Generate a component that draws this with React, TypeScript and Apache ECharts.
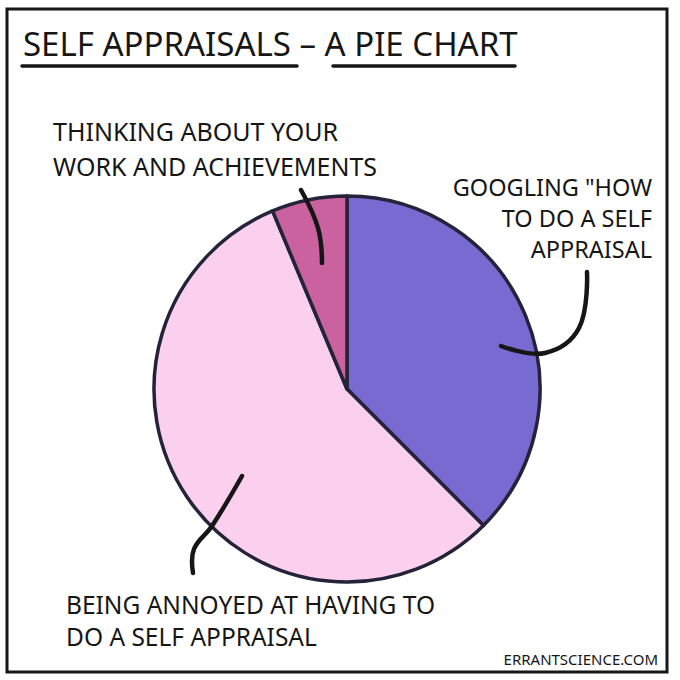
import * as echarts from "echarts";
import { useEffect, useRef } from "react";

// slices, clockwise from 12 o'clock
const categories = [
	"Googling \"how to do a self appraisal",
	"Being annoyed at having to do a self appraisal",
	"Thinking about your work and achievements",
];
const shares = [37.5, 56.2, 6.3]; // % of the pie
const labelTexts = [
	"GOOGLING \"HOW\nTO DO A SELF\nAPPRAISAL",
	"BEING ANNOYED AT HAVING TO\nDO A SELF APPRAISAL",
	"THINKING ABOUT YOUR\nWORK AND ACHIEVEMENTS",
];
const sliceColors = ["#776bd2", "#fbd0ee", "#c9629f"];

const ink = "#161616";
const font = "Noto Sans";

export default function App() {
	const chartRef = useRef<HTMLDivElement>(null);

	useEffect(() => {
		if (!chartRef.current) return;
		const chart = echarts.init(chartRef.current, null, { renderer: "svg" });

		// hand-placed callouts: label box + curved leader line
		const callouts = [
			{
				x: 652,
				y: 171.5,
				align: "right",
				fontSize: 23.5,
				lineHeight: 31,
				points: [
					[501, 346],
					[545, 353],
					[579, 328],
					[587, 272],
				],
			},
			{
				x: 66,
				y: 588,
				align: "left",
				fontSize: 24.5,
				lineHeight: 32,
				points: [
					[242, 476],
					[212, 526],
					[194, 549],
					[193, 573],
				],
			},
			{
				x: 53,
				y: 113,
				align: "left",
				fontSize: 25,
				lineHeight: 35,
				points: [
					[322, 263],
					[318, 228],
					[301, 190],
				],
			},
		];

		chart.setOption({
			animation: false,
			backgroundColor: "#ffffff",
			title: [
				{
					text: "SELF APPRAISALS – A PIE CHART",
					left: 18,
					top: 22,
					textStyle: {
						fontFamily: font,
						fontSize: 33,
						fontWeight: "normal",
						color: ink,
					},
				},
				{
					text: "ERRANTSCIENCE.COM",
					right: 17,
					top: 646,
					textStyle: {
						fontFamily: font,
						fontSize: 15,
						fontWeight: "normal",
						color: ink,
					},
				},
			],
			graphic: [
				{
					type: "rect",
					shape: { x: 7, y: 9, width: 660, height: 663 },
					style: { fill: "none", stroke: ink, lineWidth: 3 },
					silent: true,
				},
				{
					type: "line",
					shape: { x1: 22, y1: 66, x2: 297, y2: 66 },
					style: { stroke: ink, lineWidth: 3.5, lineCap: "round" },
					silent: true,
				},
				{
					type: "line",
					shape: { x1: 333, y1: 66, x2: 515, y2: 66 },
					style: { stroke: ink, lineWidth: 3.5, lineCap: "round" },
					silent: true,
				},
				// leader lines sit above the slices
				...callouts.map((c) => ({
					type: "polyline",
					z: 10,
					silent: true,
					shape: { points: c.points, smooth: 0.4 },
					style: {
						fill: "none",
						stroke: ink,
						lineWidth: 4.5,
						lineCap: "round",
						lineJoin: "round",
					},
				})),
			],
			series: [
				{
					type: "pie",
					center: [347, 389],
					radius: 193,
					startAngle: 90,
					clockwise: true,
					silent: true,
					emphasis: { disabled: true },
					itemStyle: { borderColor: "#25233a", borderWidth: 3.5 },
					data: categories.map((name, i) => ({
						name,
						value: shares[i],
						itemStyle: { color: sliceColors[i] },
						label: {
							fontSize: callouts[i].fontSize,
							lineHeight: callouts[i].lineHeight,
							align: callouts[i].align,
						},
					})),
					label: {
						show: true,
						formatter: (p: any) => labelTexts[p.dataIndex],
						fontFamily: font,
						color: ink,
						width: 440,
						overflow: "none",
					},
					labelLine: { show: false },
					labelLayout: (params: any) => {
						const c = callouts[params.dataIndex];
						return {
							x: c.x,
							y: c.y,
							align: c.align,
							verticalAlign: "top",
						};
					},
				},
			],
		});

		return () => chart.dispose();
	}, []);

	return (
		<div
			ref={chartRef}
			style={{ position: "fixed", left: 0, top: 0, width: 680, height: 680 }}
		/>
	);
}
